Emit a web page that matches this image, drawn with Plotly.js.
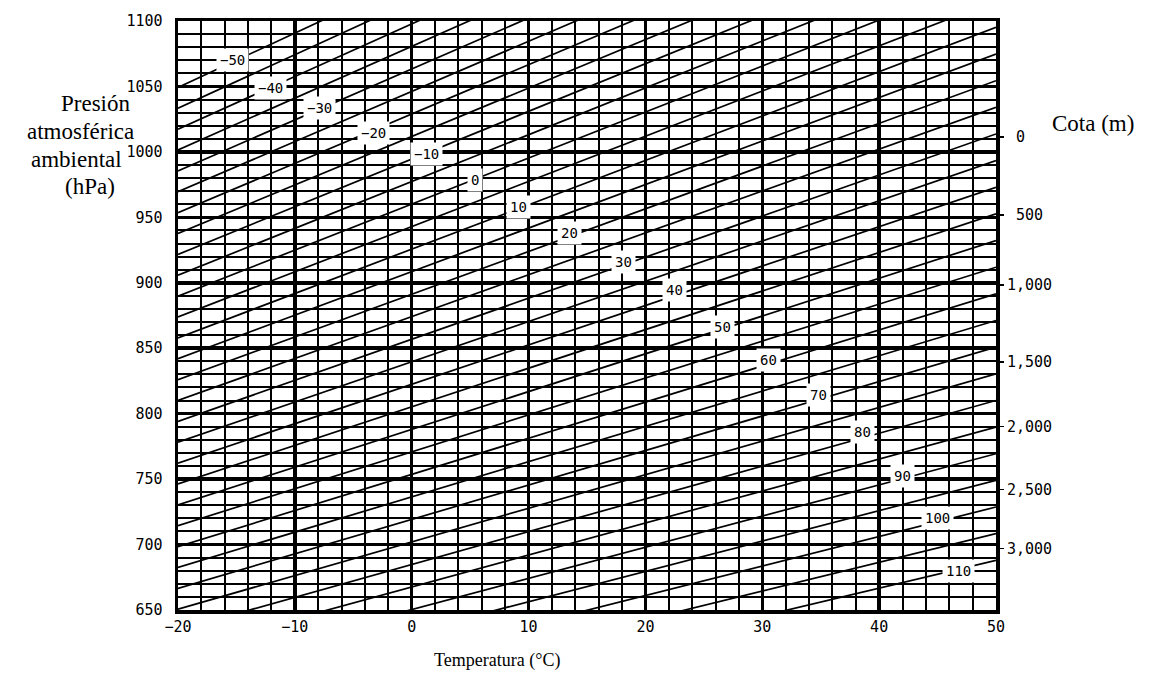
<!DOCTYPE html>
<html>
<head>
<meta charset="utf-8">
<script src="https://cdn.plot.ly/plotly-3.0.1.min.js"></script>
<style>html,body{margin:0;padding:0;background:#fff;}#chart{width:1175px;height:689px;}</style>
</head>
<body>
<div id="chart"></div>
<script>
// Temperature range (°C) where each diagonal line is anchored
const tempEnds = [-20, 50];
// Diagonal lines: value, pressure (hPa) read at -20 °C and at 50 °C
const lineValues = [-50,-45,-40,-35,-30,-25,-20,-15,-10,-5,0,5,10,15,20,25,30,35,40,45,50,55,60,65,70,75,80,85,90,95,100,105,110];
const pressureAtMinus20 = [1049.3,1033.4,1017.4,1001.5,985.5,969.6,953.6,937.7,921.7,905.8,889.8,873.9,857.9,842.0,826.0,810.1,794.1,778.2,762.2,746.3,730.3,714.4,698.4,682.5,666.5,650.6,634.6,618.7,602.7,586.8,570.9,554.9,539.0];
const pressureAt50 = [1339.5,1319.1,1298.7,1278.4,1258.0,1237.7,1217.3,1196.9,1176.6,1156.2,1135.9,1115.5,1095.2,1074.8,1054.4,1034.1,1013.7,993.4,973.0,952.6,932.3,911.9,891.6,871.2,850.9,830.5,810.1,789.8,769.4,749.1,728.7,708.3,688.0];

// Inline labels on the diagonal lines
const labelText = ["\u221250","\u221240","\u221230","\u221220","\u221210","0","10","20","30","40","50","60","70","80","90","100","110"];
const labelTemp = [-15.3,-12.1,-7.9,-3.3,1.3,5.4,9.1,13.5,18.1,22.5,26.6,30.5,34.8,38.6,42.0,45.0,46.8];
const labelPress = [1070.0,1048.7,1033.4,1014.3,998.3,978.5,957.9,938.1,916.0,894.6,866.4,841.2,814.5,786.3,752.0,720.0,679.5];

// Axis ticks
const xTicks = [-20,-10,0,10,20,30,40,50];
const xTickText = ["\u221220","\u221210","0","10","20","30","40","50"];
const yTicks = [650,700,750,800,850,900,950,1000,1050,1100];
const yTickText = ["650","700","750","800","850","900","950","1000","1050","1100"];
// Right axis: altitude (m) at pressure positions
const cotaPressure = [1011.5,951.8,898.4,839.5,790.1,742.1,697.0];
const cotaText = ["0","500","1,000","1,500","2,000","2,500","3,000"];

const NB = "\u00a0";

const traces = [];
for (let i = 0; i < lineValues.length; i++) {
  traces.push({
    type: 'scatter', mode: 'lines',
    x: tempEnds.slice(),
    y: [pressureAtMinus20[i], pressureAt50[i]],
    line: {color: '#000', width: 1.7},
    hoverinfo: 'skip', showlegend: false
  });
}
traces.push({
  type: 'scatter', mode: 'markers', x: [0], y: [800], yaxis: 'y2',
  marker: {opacity: 0}, hoverinfo: 'skip', showlegend: false
});

const tickFont = {family: 'DejaVu Sans Mono', size: 15, color: '#000'};
const serif = 'Liberation Serif';

const annotations = [];
for (let i = 0; i < labelText.length; i++) {
  annotations.push({
    x: labelTemp[i], y: labelPress[i], xref: 'x', yref: 'y',
    text: labelText[i], showarrow: false,
    font: {family: 'DejaVu Sans Mono', size: 14, color: '#000'},
    bgcolor: '#fff', borderpad: 3
  });
}
function pxAnn(text, cx, cy, size) {
  annotations.push({
    xref: 'paper', yref: 'paper',
    x: (cx - 178) / 818, y: (610 - cy) / 589.3,
    xanchor: 'center', yanchor: 'middle',
    text: text, showarrow: false,
    font: {family: serif, size: size, color: '#000'}
  });
}
pxAnn('Presión', 96, 103, 23);
pxAnn('atmosférica', 80, 131, 23);
pxAnn('ambiental', 76, 159, 23);
pxAnn('(hPa)', 90, 186, 23);
pxAnn('Cota (m)', 1093, 123, 23);
pxAnn('Temperatura (°C)', 497, 661, 18);

const layout = {
  width: 1175, height: 689,
  margin: {l: 178, r: 179, t: 21, b: 79, pad: 0},
  paper_bgcolor: '#fff', plot_bgcolor: '#fff',
  showlegend: false,
  xaxis: {
    range: [-20, 50], tickmode: 'array', tickvals: xTicks, ticktext: xTickText,
    ticks: '', tickfont: tickFont, ticklabelstandoff: 0,
    showgrid: true, gridcolor: '#000', gridwidth: 3.5,
    minor: {dtick: 2, tick0: -20, showgrid: true, gridcolor: '#000', gridwidth: 2, ticks: ''},
    showline: true, linecolor: '#000', linewidth: 3.5, mirror: true,
    zeroline: false, fixedrange: true
  },
  yaxis: {
    range: [650, 1100], tickmode: 'array', tickvals: yTicks, ticktext: yTickText,
    ticks: '', tickfont: tickFont, ticklabelstandoff: 9,
    showgrid: true, gridcolor: '#000', gridwidth: 3.5,
    minor: {dtick: 10, tick0: 650, showgrid: true, gridcolor: '#000', gridwidth: 2, ticks: ''},
    showline: true, linecolor: '#000', linewidth: 3.5, mirror: true,
    zeroline: false, fixedrange: true
  },
  yaxis2: {
    overlaying: 'y', side: 'right', range: [650, 1100],
    tickmode: 'array', tickvals: cotaPressure,
    ticktext: cotaText.map(s => s.length < 5 ? NB + s : s),
    ticks: 'outside', ticklen: 7, tickwidth: 1.5, tickcolor: '#000',
    tickfont: tickFont, showgrid: false, zeroline: false, showline: false,
    fixedrange: true
  },
  annotations: annotations
};

Plotly.newPlot('chart', traces, layout, {staticPlot: true, displayModeBar: false});
</script>
</body>
</html>
